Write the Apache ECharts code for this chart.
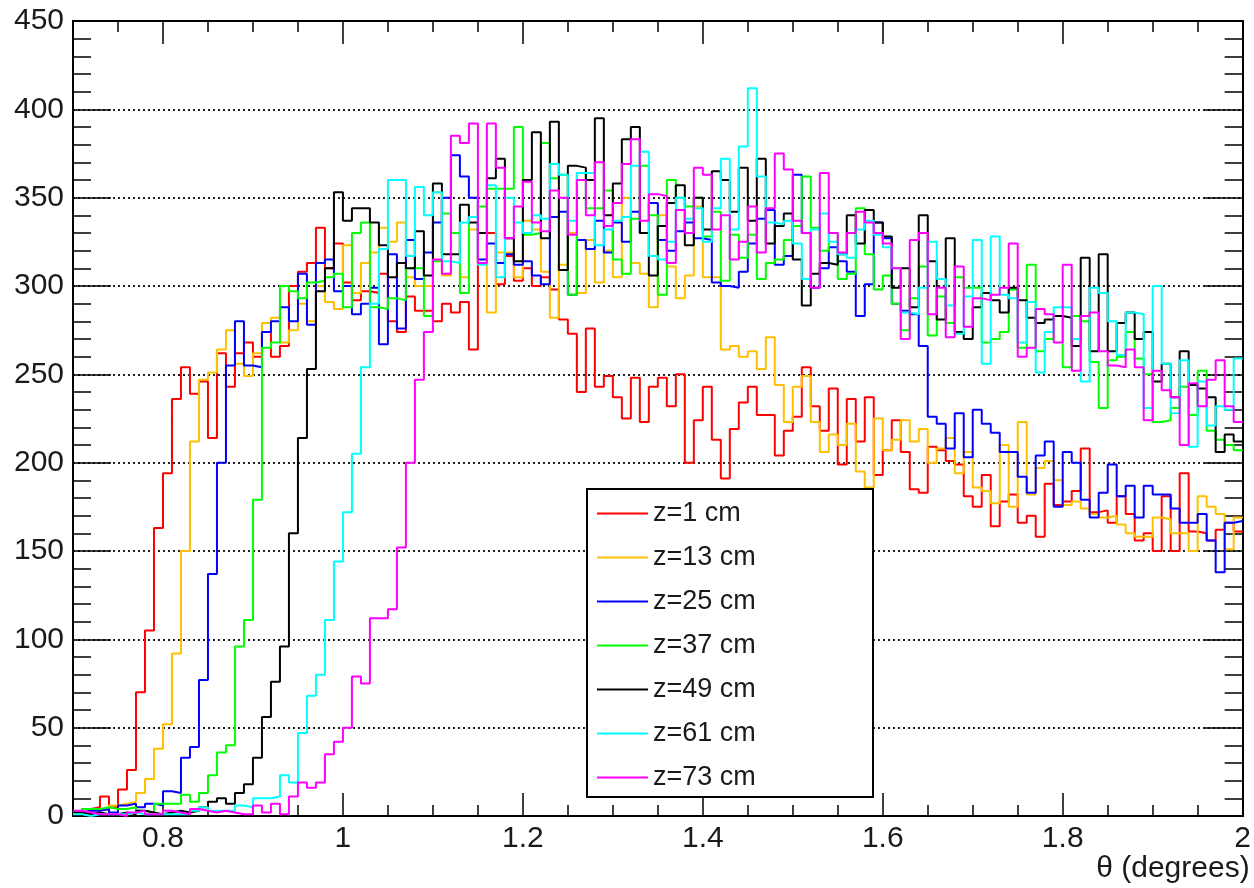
<!DOCTYPE html>
<html>
<head>
<meta charset="utf-8">
<title>theta histograms</title>
<script src="https://cdn.jsdelivr.net/npm/echarts@6/dist/echarts.min.js"></script>
<style>
html, body { margin: 0; padding: 0; background: #fff; }
#e_chart_1 { width: 1254px; height: 888px; }
</style>
</head>
<body>
<div id="e_chart_1"></div>
<script>
/***** data: 130 bins of 0.01 deg from 0.70 to 2.00 *****/
var binStart = 0.7;
var binWidth = 0.01;

var seriesNames = ['z=1 cm', 'z=13 cm', 'z=25 cm', 'z=37 cm', 'z=49 cm', 'z=61 cm', 'z=73 cm'];
var seriesColors = ['#ff0000', '#ffc000', '#0000ff', '#00ff00', '#000000', '#00ffff', '#ff00ff'];

var z1 = [2, 4, 5, 11, 5, 15, 26, 70, 105, 163,
	194, 236, 254, 239, 246, 214, 262, 243, 262, 268,
	260, 274, 260, 266, 300, 308, 313, 333, 310, 324,
	302, 292, 297, 296, 307, 280, 274, 294, 286, 286,
	280, 290, 285, 291, 264, 330, 330, 301, 317, 303,
	310, 300, 305, 298, 281, 273, 240, 276, 243, 249,
	237, 225, 248, 223, 243, 248, 232, 250, 200, 224,
	243, 213, 191, 219, 234, 243, 227, 227, 204, 218,
	226, 254, 232, 218, 242, 199, 236, 212, 237, 193,
	207, 224, 206, 185, 183, 209, 207, 201, 199, 181,
	175, 193, 164, 178, 182, 166, 170, 158, 188, 176,
	178, 184, 208, 172, 173, 166, 181, 171, 156, 160,
	150, 181, 150, 194, 161, 160, 156, 162, 166, 161];

var z13 = [2, 3, 4, 3, 6, 7, 8, 13, 21, 38,
	52, 92, 150, 212, 247, 251, 264, 275, 256, 249,
	262, 279, 282, 268, 275, 290, 280, 300, 291, 287,
	323, 296, 313, 319, 333, 325, 336, 305, 300, 300,
	353, 306, 330, 305, 332, 313, 285, 319, 319, 305,
	337, 332, 308, 282, 312, 330, 296, 326, 302, 320,
	305, 350, 313, 307, 288, 340, 311, 293, 306, 345,
	305, 305, 264, 266, 260, 263, 253, 271, 244, 223,
	243, 249, 223, 206, 216, 210, 222, 195, 186, 225,
	207, 213, 224, 212, 219, 200, 208, 214, 194, 206,
	186, 184, 177, 210, 175, 223, 182, 197, 201, 190,
	176, 178, 174, 171, 169, 170, 165, 160, 158, 158,
	169, 168, 160, 160, 150, 181, 175, 171, 151, 169];

var z25 = [2, 3, 3, 4, 2, 6, 7, 5, 7, 6,
	14, 13, 33, 39, 77, 137, 200, 255, 280, 255,
	254, 274, 280, 288, 280, 307, 278, 313, 315, 297,
	300, 284, 290, 299, 267, 318, 276, 326, 304, 319,
	336, 350, 374, 362, 350, 315, 324, 313, 318, 312,
	314, 306, 301, 339, 342, 295, 326, 321, 337, 319,
	336, 325, 342, 330, 347, 326, 320, 331, 336, 327,
	326, 302, 300, 299, 308, 324, 338, 343, 312, 317,
	363, 330, 299, 310, 322, 314, 308, 283, 301, 336,
	327, 290, 286, 284, 266, 226, 222, 208, 228, 203,
	230, 222, 217, 206, 206, 192, 183, 204, 212, 175,
	206, 200, 179, 169, 183, 199, 181, 187, 169, 187,
	182, 182, 174, 166, 166, 171, 156, 138, 166, 167];

var z37 = [2, 4, 4, 5, 4, 4, 5, 3, 2, 7,
	7, 7, 12, 8, 13, 23, 36, 40, 96, 111,
	179, 265, 268, 300, 297, 293, 302, 303, 305, 307,
	288, 330, 336, 288, 287, 293, 292, 310, 310, 283,
	314, 341, 330, 296, 339, 345, 355, 355, 355, 390,
	329, 330, 381, 361, 363, 295, 364, 344, 344, 354,
	315, 307, 338, 368, 340, 295, 360, 350, 345, 350,
	328, 342, 303, 329, 316, 329, 304, 313, 315, 326,
	334, 362, 333, 320, 330, 304, 307, 344, 318, 298,
	306, 290, 275, 293, 311, 272, 294, 279, 305, 299,
	299, 268, 270, 274, 298, 265, 312, 263, 270, 283,
	254, 283, 280, 257, 231, 258, 260, 274, 259, 250,
	223, 224, 231, 243, 227, 252, 218, 213, 210, 207];

var z49 = [2, 1, 2, 1, 1, 2, 1, 3, 2, 1,
	2, 3, 2, 3, 5, 8, 10, 7, 13, 18,
	33, 56, 76, 96, 160, 214, 253, 297, 310, 353,
	337, 344, 344, 336, 323, 305, 313, 310, 331, 306,
	358, 318, 318, 346, 336, 330, 361, 372, 327, 314,
	360, 387, 327, 393, 309, 368, 367, 360, 395, 340,
	358, 383, 390, 330, 306, 334, 347, 357, 323, 350,
	332, 365, 360, 342, 367, 337, 372, 324, 334, 341,
	315, 289, 307, 313, 312, 318, 340, 324, 343, 336,
	328, 299, 310, 288, 340, 314, 281, 327, 274, 270,
	288, 296, 292, 285, 299, 292, 282, 279, 281, 283,
	282, 266, 316, 263, 318, 263, 279, 285, 270, 274,
	246, 256, 237, 263, 244, 242, 237, 206, 216, 212];

var z61 = [1, 0, 1, 1, 1, 1, 2, 1, 1, 1,
	1, 1, 1, 3, 5, 3, 3, 3, 6, 5,
	10, 10, 11, 23, 19, 47, 68, 80, 111, 144,
	172, 205, 254, 290, 321, 360, 360, 317, 356, 340,
	353, 314, 313, 336, 339, 312, 357, 305, 350, 336,
	330, 340, 338, 369, 363, 337, 364, 364, 323, 332,
	337, 339, 368, 376, 317, 315, 325, 350, 338, 344,
	325, 344, 372, 332, 379, 412, 362, 336, 335, 337,
	324, 304, 332, 341, 325, 318, 316, 332, 337, 329,
	322, 310, 285, 284, 299, 325, 304, 289, 273, 294,
	326, 256, 328, 295, 293, 268, 291, 251, 274, 288,
	288, 270, 246, 299, 296, 280, 261, 285, 284, 231,
	300, 256, 228, 258, 209, 246, 221, 232, 230, 259];

var z73 = [3, 2, 1, 1, 1, 0, 2, 3, 1, 1,
	3, 2, 1, 4, 3, 2, 3, 2, 1, 1,
	6, 2, 7, 1, 11, 19, 16, 19, 35, 42,
	50, 79, 75, 112, 112, 117, 152, 200, 247, 274,
	315, 307, 385, 381, 392, 313, 392, 367, 327, 345,
	359, 336, 331, 354, 350, 329, 360, 340, 370, 334,
	347, 369, 383, 337, 352, 351, 313, 343, 330, 367,
	363, 332, 340, 315, 325, 345, 319, 344, 375, 366,
	337, 330, 299, 364, 330, 319, 330, 342, 336, 330,
	324, 310, 270, 326, 330, 284, 299, 271, 311, 277,
	293, 292, 295, 299, 324, 260, 265, 287, 284, 268,
	312, 252, 283, 285, 263, 255, 254, 264, 254, 224,
	252, 241, 237, 210, 245, 232, 247, 258, 232, 223];

var allValues = [z1, z13, z25, z37, z49, z61, z73];

var xMajorTicks = [0.8, 1.0, 1.2, 1.4, 1.6, 1.8, 2.0];
var xMinorTicks = [0.75, 0.85, 0.9, 0.95, 1.05, 1.1, 1.15, 1.25, 1.3, 1.35,
	1.45, 1.5, 1.55, 1.65, 1.7, 1.75, 1.85, 1.9, 1.95];

/***** helpers *****/
var fontName = "'Liberation Sans', Arial, sans-serif";
var textColor = '#1a1a1a';

// left bin edges + closing point, drawn with step:'end'
function histPoints(values) {
	var pts = [];
	for (var i = 0; i < values.length; i++) {
		pts.push([+(binStart + i * binWidth).toFixed(2), values[i]]);
	}
	pts.push([+(binStart + values.length * binWidth).toFixed(2), values[values.length - 1]]);
	return pts;
}

function xAxisDef(pos, ticks, len, labels) {
	return {
		type: 'value',
		position: pos,
		min: 0.7,
		max: 2.0,
		axisLine: { show: true, onZero: false, lineStyle: { color: '#000', width: 2 } },
		axisTick: { show: true, inside: true, length: len, customValues: ticks,
			lineStyle: { color: '#000', width: 1.5 } },
		axisLabel: {
			show: labels,
			customValues: ticks,
			margin: 8,
			fontSize: 30,
			color: textColor,
			fontFamily: fontName,
			formatter: function (v) { return String(Number(v.toFixed(2))); }
		},
		splitLine: { show: false }
	};
}

function yAxisDef(pos, labels) {
	return {
		type: 'value',
		position: pos,
		min: 0,
		max: 450,
		interval: 50,
		axisLine: { show: true, onZero: false, lineStyle: { color: '#000', width: 2 } },
		axisTick: { show: true, inside: true, length: 38, lineStyle: { color: '#000', width: 1.5 } },
		minorTick: { show: true, splitNumber: 5, length: 18, lineStyle: { color: '#000', width: 1.5 } },
		axisLabel: { show: labels, margin: 9, fontSize: 30, color: textColor, fontFamily: fontName },
		splitLine: {
			show: labels,
			showMinLine: false,
			showMaxLine: false,
			lineStyle: { color: '#222', width: 2, type: [2, 3] }
		}
	};
}

var xBottom = xAxisDef('bottom', xMajorTicks, 23, true);
xBottom.name = '\u03b8 (degrees)';
xBottom.nameLocation = 'end';
xBottom.nameGap = 7;
xBottom.nameTextStyle = { align: 'right', verticalAlign: 'top', fontSize: 30,
	color: textColor, fontFamily: fontName, padding: [38, 0, 0, 0] };

var series = [];
for (var s = 0; s < allValues.length; s++) {
	series.push({
		name: seriesNames[s],
		type: 'line',
		step: 'end',
		xAxisIndex: 0,
		yAxisIndex: 0,
		symbol: 'none',
		silent: true,
		lineStyle: { color: seriesColors[s], width: 2 },
		itemStyle: { color: seriesColors[s] },
		data: histPoints(allValues[s])
	});
}

/***** chart *****/
window.onload = function () {
	var eChart_1 = echarts.init(document.getElementById('e_chart_1'));
	var option1 = {
		animation: false,
		backgroundColor: '#fff',
		grid: { left: 73, right: 6, top: 21, bottom: 72 },
		xAxis: [
			xBottom,
			xAxisDef('bottom', xMinorTicks, 11, false),
			xAxisDef('top', xMajorTicks, 23, false),
			xAxisDef('top', xMinorTicks, 11, false)
		],
		yAxis: [yAxisDef('left', true), yAxisDef('right', false)],
		legend: {
			orient: 'vertical',
			left: 597,
			top: 500,
			padding: 0,
			icon: 'rect',
			itemWidth: 51,
			itemHeight: 2,
			itemGap: 17,
			itemTextGap: 8,
			selectedMode: false,
			z: 10,
			textStyle: { fontSize: 27, lineHeight: 26, color: textColor, fontFamily: fontName },
			data: seriesNames
		},
		graphic: [{
			type: 'rect',
			z: 5,
			shape: { x: 587, y: 489, width: 286, height: 308 },
			style: { fill: '#fff', stroke: '#000', lineWidth: 2 }
		}],
		series: series
	};
	eChart_1.setOption(option1);
};
</script>
</body>
</html>
